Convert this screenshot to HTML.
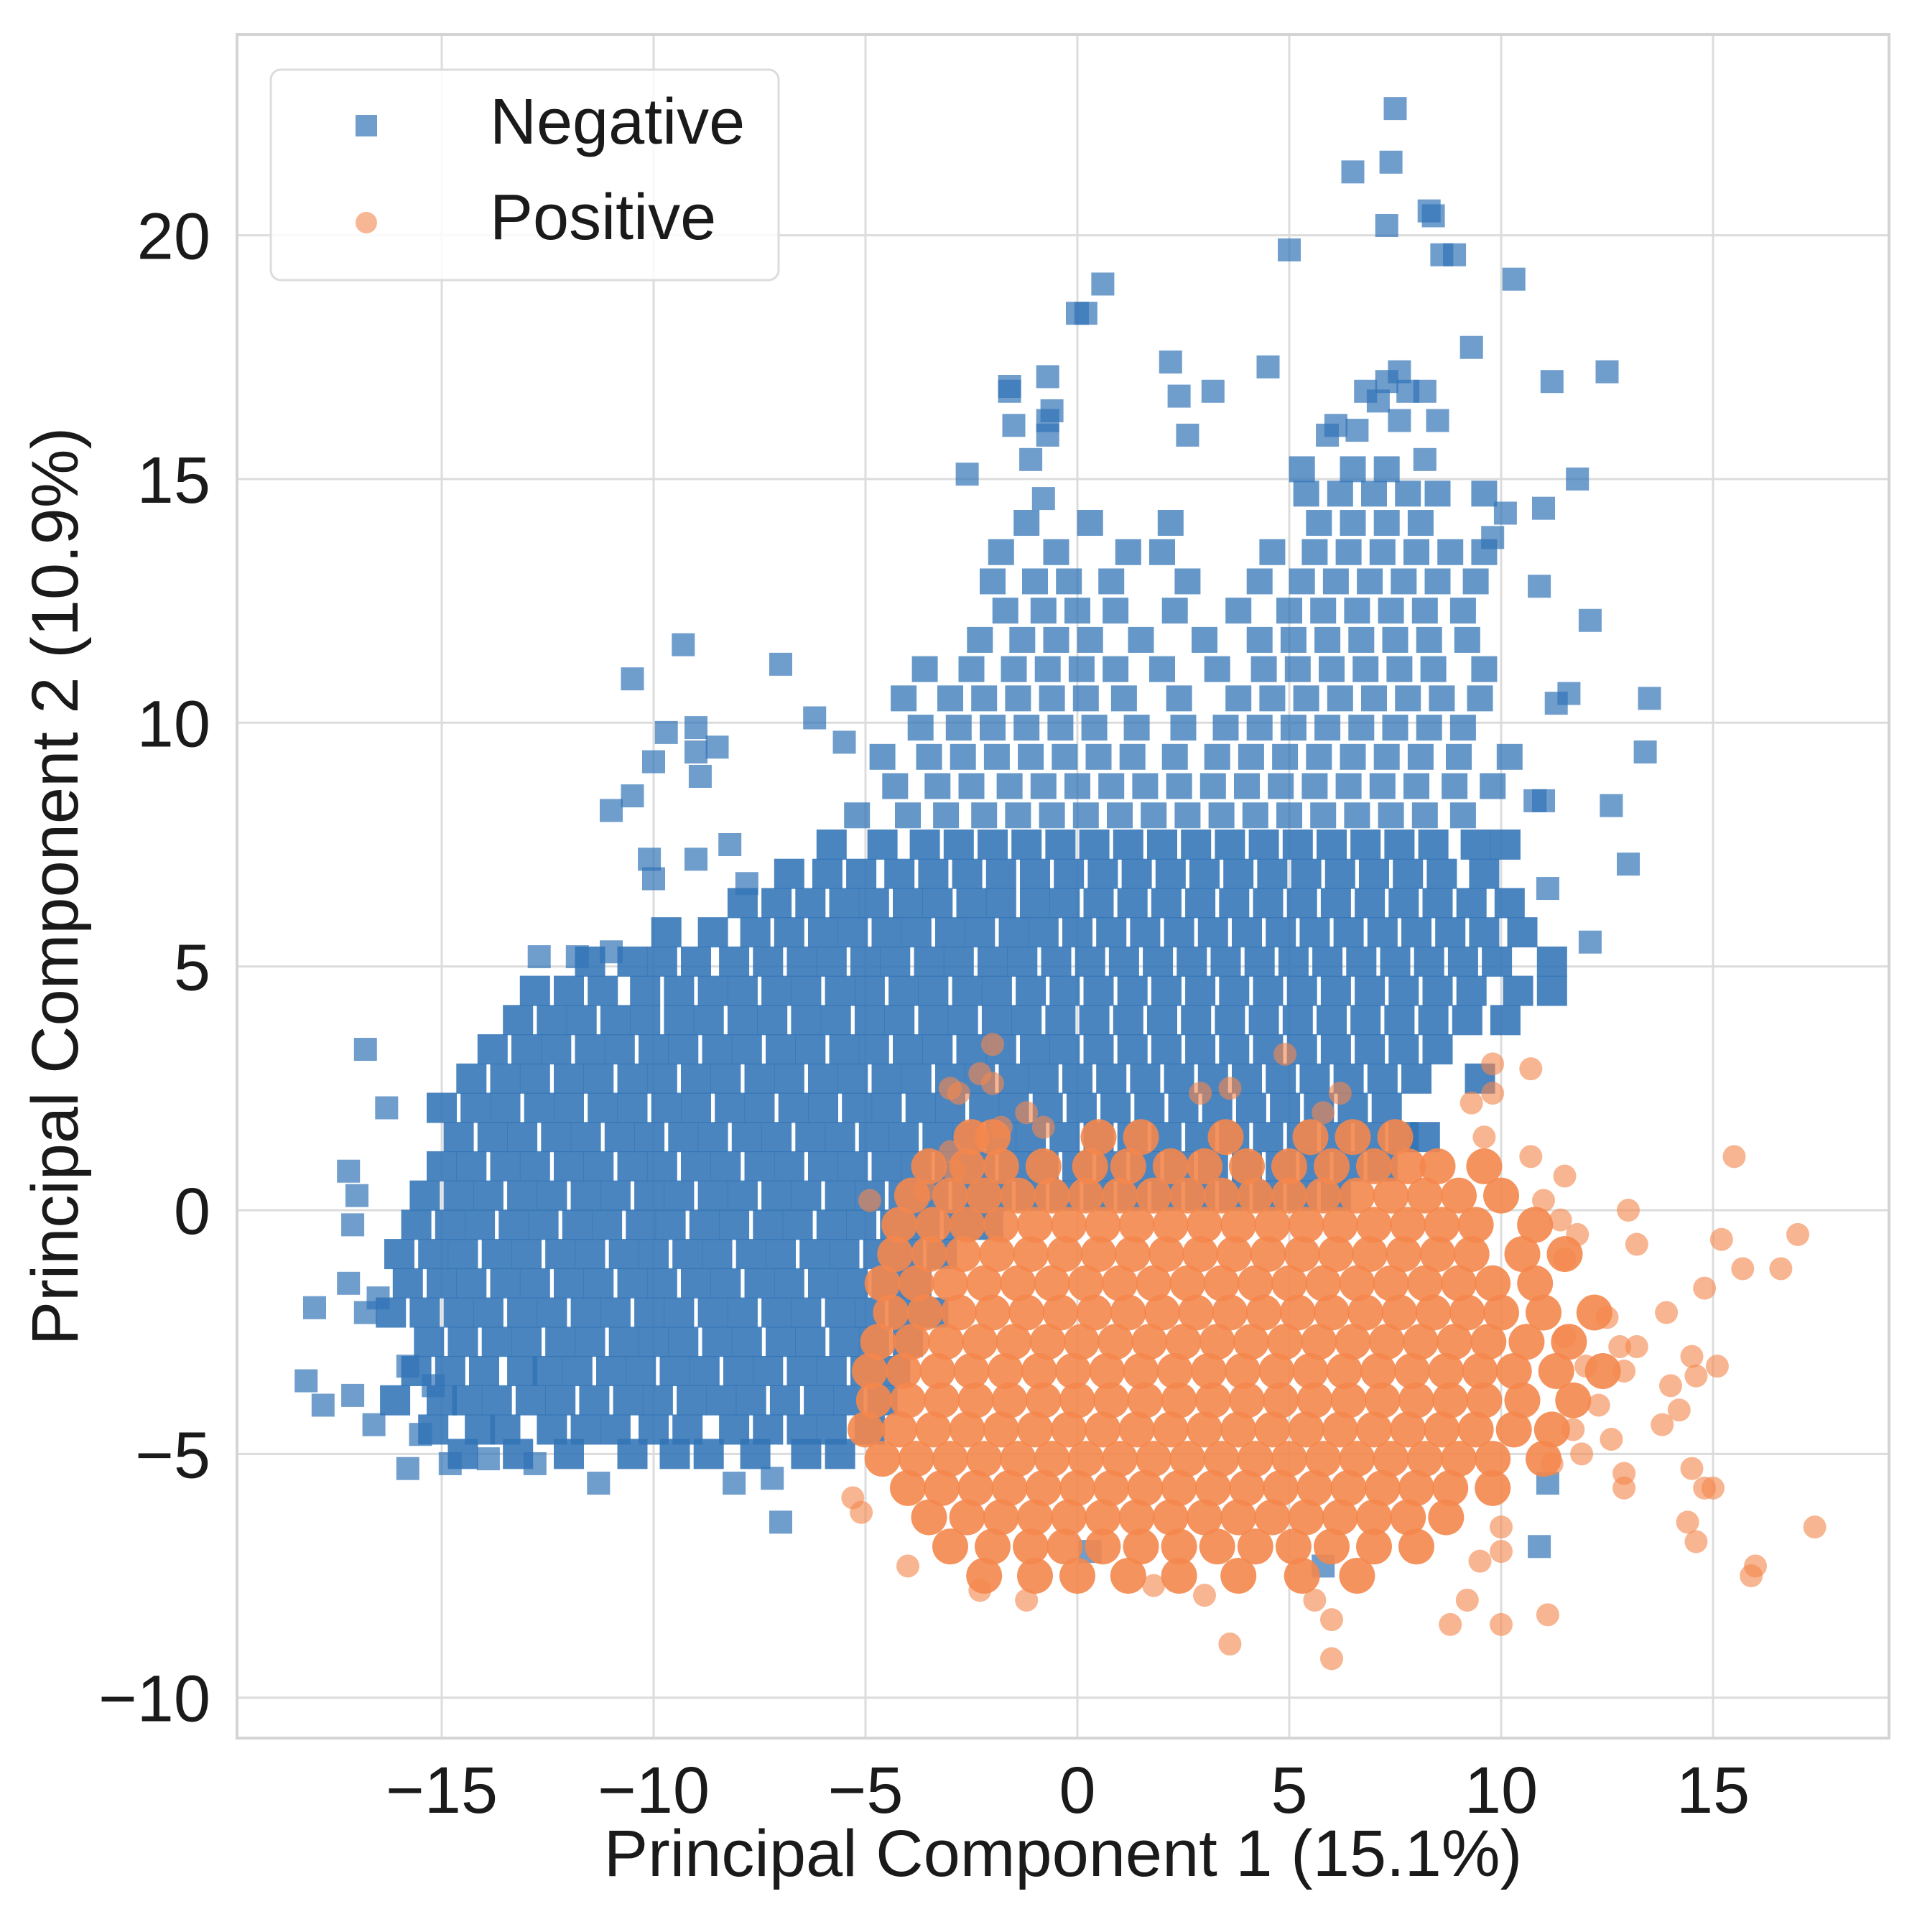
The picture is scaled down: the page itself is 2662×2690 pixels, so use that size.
<!DOCTYPE html>
<html><head><meta charset="utf-8"><title>PCA scatter</title>
<style>html,body{margin:0;padding:0;background:#fff}svg{display:block}text{font-family:"Liberation Sans",Arial,sans-serif;fill:#1a1a1a}</style>
</head><body>
<svg id="chart" xmlns="http://www.w3.org/2000/svg" width="2662" height="2690" viewBox="0 0 2662 2690">
<rect x="330" y="48" width="2300" height="2372" fill="#fff"/>
<g id="grid"></g>
<g id="negLayer"></g>
<g id="posLayer"></g>
<rect x="330" y="48" width="2300" height="2372" fill="none" stroke="#d4d4d4" stroke-width="4"/>
<g id="ticks"></g>
<text x="1480" y="2612" font-size="92" text-anchor="middle">Principal Component 1 (15.1%)</text>
<text x="0" y="0" font-size="92" text-anchor="middle" transform="translate(108,1234) rotate(-90)">Principal Component 2 (10.9%)</text>
<g>
<rect x="377" y="97" width="707" height="293" rx="14" fill="#fff" fill-opacity="0.85" stroke="#dcdcdc" stroke-width="3"/>
<rect x="495" y="160" width="30" height="30" fill="#3274b6" fill-opacity="0.7"/>
<text x="682" y="200" font-size="90">Negative</text>
<circle cx="510" cy="310" r="15" fill="#f4874d" fill-opacity="0.6"/>
<text x="682" y="333" font-size="90">Positive</text>
</g>
</svg>
<script>
const xTicks = [-15, -10, -5, 0, 5, 10, 15];
const yTicks = [-10, -5, 0, 5, 10, 15, 20];
const xTickLabels = ["\u221215", "\u221210", "\u22125", "0", "5", "10", "15"];
const yTickLabels = ["\u221210", "\u22125", "0", "5", "10", "15", "20"];

const negRowY = [-5.0,-4.5,-3.9,-3.3,-2.7,-2.1,-1.5,-0.9,-0.3,0.3,0.9,1.5,2.1,2.7,3.3,3.9,4.5,5.1,5.7,6.3,6.9,7.5,8.1,8.7,9.3,9.9,10.5,11.1,11.7,12.3,12.9,13.5,14.1,14.7,15.2];
const negRowX = [
[-14.5,-13.2,-12,-10.5,-9.5,-8.7,-7.6,-6.4,-5.6],
[-15.2,-14.1,-13.5,-12.4,-11.6,-10.9,-10,-9.2,-8.1,-7.3,-6.5,-5.8,-4.9],
[-16.1,-15,-14.4,-13.7,-12.9,-12.2,-11.4,-10.6,-9.9,-9.1,-8.4,-7.7,-6.9,-6.1,-5.4,-4.6],
[-15.6,-14.8,-14,-13.1,-12.5,-11.8,-11,-10.3,-9.5,-8.8,-8,-7.3,-6.5,-5.8,-5,-4.3],
[-15.3,-14.5,-13.7,-13,-12.2,-11.5,-10.7,-10,-9.3,-8.5,-7.8,-7,-6.3,-5.5,-4.8,-4],
[-16.2,-15.4,-14.6,-13.9,-13.1,-12.4,-11.6,-10.9,-10.1,-9.4,-8.6,-7.9,-7.1,-6.4,-5.6,-4.9,-4.1,-3.4],
[-15.8,-15,-14.3,-13.5,-12.8,-12,-11.3,-10.5,-9.8,-9,-8.3,-7.5,-6.8,-6,-5.3,-4.5,-3.8],
[-16,-15.2,-14.5,-13.7,-13,-12.2,-11.5,-10.7,-10,-9.2,-8.5,-7.7,-7,-6.2,-5.5,-4.7,-4,-3.2],
[-15.6,-14.8,-14.1,-13.3,-12.6,-11.8,-11.1,-10.3,-9.6,-8.8,-8.1,-7.3,-6.6,-5.8,-5.1,-4.3,-3.6,-2.8,-2.1],
[-15.4,-14.6,-13.9,-13.1,-12.4,-11.6,-10.9,-10.1,-9.4,-8.6,-7.9,-7.1,-6.4,-5.6,-4.9,-4.1,-3.4,-2.6,-1.9,-1.1,-0.3,0.5,1.3,2.1,2.9,3.7,4.5,5.3,6.1],
[-15,-14.3,-13.5,-12.8,-12,-11.3,-10.5,-9.8,-9,-8.3,-7.5,-6.8,-6,-5.3,-4.5,-3.8,-3,-2.3,-1.5,-0.8,0,0.8,1.6,2.4,3.2,4,4.8,5.6,6.4,7.2],
[-14.6,-13.8,-13.1,-12.3,-11.6,-10.8,-10.1,-9.3,-8.6,-7.8,-7.1,-6.3,-5.6,-4.8,-4.1,-3.3,-2.6,-1.8,-1.1,-0.3,0.5,1.3,2.1,2.9,3.7,4.5,5.3,6.1,6.9,7.7,8.2],
[-15,-14.2,-13.5,-12.7,-12,-11.2,-10.5,-9.7,-9,-8.2,-7.5,-6.7,-6,-5.2,-4.5,-3.7,-3,-2.2,-1.5,-0.7,0.1,0.9,1.7,2.5,3.3,4.1,4.9,5.7,6.5,7.3],
[-14.3,-13.5,-12.8,-12,-11.3,-10.5,-9.8,-9,-8.3,-7.5,-6.8,-6,-5.3,-4.5,-3.8,-3,-2.3,-1.5,-0.8,0,0.8,1.6,2.4,3.2,4,4.8,5.6,6.4,7.2,8,9.5],
[-13.8,-13,-12.3,-11.5,-10.8,-10,-9.3,-8.5,-7.8,-7,-6.3,-5.5,-4.8,-4,-3.3,-2.5,-1.8,-1,-0.3,0.5,1.3,2.1,2.9,3.7,4.5,5.3,6.1,6.9,7.7,8.5],
[-13.2,-12.4,-11.7,-10.9,-10.2,-9.4,-8.7,-7.9,-7.2,-6.4,-5.7,-4.9,-4.2,-3.4,-2.7,-1.9,-1.2,-0.4,0.4,1.2,2,2.8,3.6,4.4,5.2,6,6.8,7.6,8.4,9.2,10.1],
[-12.8,-12,-11.2,-10.2,-9.4,-8.6,-7.9,-7.1,-6.4,-5.6,-4.9,-4.1,-3.4,-2.6,-1.9,-1.1,-0.3,0.5,1.3,2.1,2.9,3.7,4.5,5.3,6.1,6.9,7.7,8.5,9.3,10.4,11.2],
[-11.5,-10.5,-9.8,-9,-8.1,-7.3,-6.5,-5.8,-5,-4.3,-3.5,-2.8,-2,-1.3,-0.5,0.3,1.1,1.9,2.7,3.5,4.3,5.1,5.9,6.7,7.5,8.3,9.1,9.9,11.2],
[-9.7,-8.6,-7.6,-6.8,-6,-5.3,-4.5,-3.8,-3,-2.3,-1.5,-0.8,0,0.8,1.6,2.4,3.2,4,4.8,5.6,6.4,7.2,8,8.8,9.6,10.5],
[-7.9,-7.1,-6.3,-5.5,-4.8,-4,-3.3,-2.5,-1.8,-1,-0.3,0.5,1.3,2.1,2.9,3.7,4.5,5.3,6.1,6.9,7.7,8.5,9.3,10.2],
[-6.8,-5.9,-5.1,-4.2,-3.4,-2.6,-1.8,-1,-0.2,0.6,1.4,2.2,3,3.8,4.6,5.4,6.2,7,7.8,8.6,9.6],
[-5.8,-4.6,-3.6,-2.8,-2,-1.2,-0.4,0.4,1.2,2,2.8,3.6,4.4,5.2,6,6.8,7.6,8.4,9.4,10.1],
[-5.2,-4,-3.1,-2.2,-1.4,-0.6,0.2,1,1.8,2.6,3.4,4.2,5,5.8,6.6,7.4,8.2,9.1],
[-4.3,-3.3,-2.5,-1.6,-0.8,0,0.8,1.6,2.4,3.2,4,4.8,5.6,6.4,7.2,8,8.9,9.8],
[-4.6,-3.5,-2.7,-1.9,-1.1,-0.3,0.5,1.3,2.3,3.3,4.1,4.9,5.7,6.5,7.3,8.1,9,10.2],
[-3.7,-2.8,-2,-1.2,-0.4,0.4,1.4,2.5,3.5,4.3,5.1,5.9,6.7,7.5,8.3,9.1],
[-4.1,-3,-2.2,-1.4,-0.6,0.2,1.1,2.4,3.8,4.6,5.4,6.2,7,7.8,8.6,9.5],
[-3.6,-2.5,-1.5,-0.7,0.1,0.9,2,3.3,4.4,5.2,6,6.8,7.6,8.4,9.6],
[-2.3,-1.3,-0.5,0.3,1.5,3,4.3,5.1,5.9,6.7,7.5,8.3,9.2],
[-1.7,-0.8,0,0.9,2.3,3.8,5,5.8,6.6,7.4,8.2,9.1],
[-2,-1,-0.2,0.8,2.6,4.3,5.3,6.1,6.9,7.7,8.5,9.4],
[-1.8,-0.5,1.2,2,4.6,5.6,6.4,7.2,8,8.8,9.6],
[-1.2,0.3,2.2,5.7,6.5,7.3,8.1],
[5.4,6.2,7,7.8,8.5,9.6],
[5.3,6.5,7.3]
];
const negExtraX = [7.5,7.4,6.5,7.3,8.4,8.3,5,8.6,8.9,10.3,0.6,0.2,0,9.3,4.5,12.5,11.2,2.2,2.4,3.2,2.6,-1.6,-1.5,-1.6,-0.7,-0.6,-0.7,-0.7,-1.1,-2.6,-0.8,8.2,7.6,7.1,7.3,7.6,6.8,7.8,8.2,8.5,6.1,5.9,6.6,11.8,11,10.1,9.8,12.1,10.9,13.5,13.4,12.6,13,12.1,11.1,11.3,11.6,10.8,11,-16.8,-16.3,-17.2,-17,-17.1,-18,-18.2,-17.8,-17.1,-16.6,-15.8,-14.8,-13.9,-12.8,-11.3,-8.1,-7.2,-7,-17.2,-16.8,-16.5,-15.8,-15.2,-15.5,-9.3,-10.5,-7,-11,-10.5,-10,-9.7,-9,-8.5,-9,-8.9,-6.2,-5.5,-10.1,-9,-8.2,-10,-12.7,-11.8,-11,-7.8,10.9,5.8,0.3,11.1];
const negExtraY = [22.6,21.5,21.3,20.2,20.4,20.5,19.7,19.6,19.6,19.1,19,18.4,18.4,17.7,17.3,17.2,17,17.4,16.7,16.8,15.9,16.9,16.1,16.8,17.1,16.4,16.2,15.9,15.4,15.1,14.6,15.4,16.2,16.6,17,17.2,16.8,16.8,16.8,16.2,16.1,15.9,16,15,14.4,14.3,13.8,12.1,12.8,10.5,9.4,8.3,7.1,5.5,6.6,10.4,10.6,8.4,8.4,3.3,2.1,0.8,0.3,-0.3,-2,-3.5,-4,-3.8,-4.4,-5.3,-5.2,-5.1,-5.2,-5.6,-5.6,-5.5,-6.4,-1.5,-2.1,-1.8,-3.2,-3.6,-4.6,11.6,10.9,11.2,8.2,8.5,9.2,9.8,9.9,9.5,9.4,8.9,10.1,9.6,7.2,7.2,7.5,6.8,5.2,5.2,5.3,6.7,-6.9,-7.3,-7,-5.6];

const posRowY = [1.5,0.9,0.3,-0.3,-0.9,-1.5,-2.1,-2.7,-3.3,-3.9,-4.5,-5.1,-5.7,-6.3,-6.9,-7.5];
const posRowX = [
[-2.5,-2,0.5,1.5,3.5,5.5,6.5,7.5],
[-3.5,-2.6,-1.8,-0.8,0.3,1.2,2.2,3,4,5,6,7,7.8,8.5,9.6],
[-3.9,-3,-2.2,-1.4,-0.6,0.2,1,1.8,2.6,3.4,4.2,5,5.8,6.6,7.4,8.2,9,10],
[-4.2,-3.4,-2.6,-1.8,-1,-0.2,0.6,1.4,2.2,3,3.8,4.6,5.4,6.2,7,7.8,8.6,9.4,10.8],
[-4.3,-3.5,-2.7,-1.9,-1.1,-0.3,0.5,1.3,2.1,2.9,3.7,4.5,5.3,6.1,6.9,7.7,8.5,9.3,10.5,11.5],
[-4.6,-3.8,-3,-2.2,-1.4,-0.6,0.2,1,1.8,2.6,3.4,4.2,5,5.8,6.6,7.4,8.2,9,9.8,10.8],
[-4.4,-3.6,-2.8,-2,-1.2,-0.4,0.4,1.2,2,2.8,3.6,4.4,5.2,6,6.8,7.6,8.4,9.2,10,11,12.2],
[-4.7,-3.9,-3.1,-2.3,-1.5,-0.7,0.1,0.9,1.7,2.5,3.3,4.1,4.9,5.7,6.5,7.3,8.1,8.9,9.7,10.6,11.6],
[-4.9,-4.1,-3.3,-2.5,-1.7,-0.9,-0.1,0.7,1.5,2.3,3.1,3.9,4.7,5.5,6.3,7.1,7.9,8.7,9.5,10.3,11.3,12.4],
[-4.8,-4,-3.2,-2.4,-1.6,-0.8,0,0.8,1.6,2.4,3.2,4,4.8,5.6,6.4,7.2,8,8.8,9.6,10.5,11.7],
[-5,-4.2,-3.4,-2.6,-1.8,-1,-0.2,0.6,1.4,2.2,3,3.8,4.6,5.4,6.2,7,7.8,8.6,9.4,10.3,11.2],
[-4.6,-3.8,-3,-2.2,-1.4,-0.6,0.2,1,1.8,2.6,3.4,4.2,5,5.8,6.6,7.4,8.2,9,9.8,11],
[-4,-3.2,-2.4,-1.6,-0.8,0,0.8,1.6,2.4,3.2,4,4.8,5.6,6.4,7.2,8,8.8,9.8],
[-3.5,-2.6,-1.8,-1,-0.2,0.6,1.4,2.2,3,3.8,4.6,5.4,6.2,7,7.8,8.7],
[-3,-2,-1.1,-0.3,0.6,1.5,2.4,3.3,4.2,5.1,6,7,8],
[-2.2,-1,0,1.2,2.4,3.8,5.3,6.6]
];
const posExtraX = [-5.3,-5.1,-4,-2.3,-1.2,1.8,3,3.6,5.6,6,6,8.8,9.2,10,11.1,10,9.5,10,12.9,12.9,14.5,14.8,15,14.4,14.6,16,15.9,17.4,13.8,14.2,14,14.6,15.1,14.5,13.9,14.8,15.7,16.6,17,15.2,13.2,13,15.5,12.5,12.8,12.3,11.9,12.6,11.7,11.2,11.5,11.8,11.4,11,11.5,10.7,9.6,9.3,10.7,9.8,9.8,5.8,6.2,4.9,3.6,2.9,-2.3,-2,-2.8,-2,-3,-3,-2.9,-1.8,-0.8,-1.2,-4.9,-3.6,12,11.5,12.9,13.2];
const posExtraY = [-5.9,-6.2,-7.3,-7.8,-8,-7.7,-7.9,-8.9,-8,-9.2,-8.4,-8.5,-8,-8.5,-8.3,-7,-7.2,-6.5,-5.7,-5.4,-5.3,-5.7,-5.7,-6.4,-6.8,-7.3,-7.5,-6.5,-4.4,-4.1,-3.6,-3.4,-3.2,-3,-2.1,-1.6,-1.2,-1.2,-0.5,-0.6,-0.7,0,1.1,-2.2,-2.8,-4,-5,-4.7,-4.5,-5.2,-1,-0.5,-0.2,0.2,0.7,1.1,1.5,2.2,2.9,2.4,3,2,2.4,3.2,2.5,2.4,2.8,2.6,2.4,3.4,2.5,1.2,0.8,1.7,1.7,2,0.2,0.4,-3.2,-2.6,-3.3,-2.8];

const NS = "http://www.w3.org/2000/svg";
const X0 = 1500, XS = 59, Y0 = 1685, YS = 67.87;
const L = 330, R = 2630, T = 48, B = 2420;
function xPos(v){ return X0 + v * XS; }
function yPos(v){ return Y0 - v * YS; }

const grid = document.getElementById('grid');
const ticks = document.getElementById('ticks');
xTicks.forEach(function(v, i){
  const ln = document.createElementNS(NS, 'line');
  ln.setAttribute('x1', xPos(v)); ln.setAttribute('x2', xPos(v));
  ln.setAttribute('y1', T); ln.setAttribute('y2', B);
  ln.setAttribute('stroke', '#dcdcdc'); ln.setAttribute('stroke-width', '3');
  
  
  grid.appendChild(ln);
  const t = document.createElementNS(NS, 'text');
  t.setAttribute('x', xPos(v)); t.setAttribute('y', 2524);
  t.setAttribute('font-size', '92'); t.setAttribute('text-anchor', 'middle');
  t.textContent = xTickLabels[i];
  
  
  ticks.appendChild(t);
});
yTicks.forEach(function(v, i){
  const ln = document.createElementNS(NS, 'line');
  ln.setAttribute('x1', L); ln.setAttribute('x2', R);
  ln.setAttribute('y1', yPos(v)); ln.setAttribute('y2', yPos(v));
  ln.setAttribute('stroke', '#dcdcdc'); ln.setAttribute('stroke-width', '3');
  
  
  grid.appendChild(ln);
  const t = document.createElementNS(NS, 'text');
  t.setAttribute('x', 293); t.setAttribute('y', yPos(v) + 33);
  t.setAttribute('font-size', '92'); t.setAttribute('text-anchor', 'end');
  t.textContent = yTickLabels[i];
  
  
  ticks.appendChild(t);
});

const negLayer = document.getElementById('negLayer');
const posLayer = document.getElementById('posLayer');
function addNeg(x, y, s, op){
  const r = document.createElementNS(NS, 'rect');
  r.setAttribute('x', xPos(x) - s/2); r.setAttribute('y', yPos(y) - s/2);
  r.setAttribute('width', s); r.setAttribute('height', s);
  r.setAttribute('fill', '#3274b6'); r.setAttribute('fill-opacity', op);
  
  
  negLayer.appendChild(r);
}
function addPos(x, y, rad, op){
  const c = document.createElementNS(NS, 'circle');
  c.setAttribute('cx', xPos(x)); c.setAttribute('cy', yPos(y)); c.setAttribute('r', rad);
  c.setAttribute('fill', '#f4874d'); c.setAttribute('fill-opacity', op);
  
  
  posLayer.appendChild(c);
}
negRowY.forEach(function(y, i){ negRowX[i].forEach(function(x){ addNeg(x, y, y > 8 ? 36 : 42, y > 8 ? 0.75 : 0.88); }); });
negExtraX.forEach(function(x, i){ addNeg(x, negExtraY[i], 32, 0.7); });
posRowY.forEach(function(y, i){ posRowX[i].forEach(function(x){ addPos(x, y, 25, 0.9); }); });
posExtraX.forEach(function(x, i){ addPos(x, posExtraY[i], 16, 0.62); });
</script>
</body></html>
